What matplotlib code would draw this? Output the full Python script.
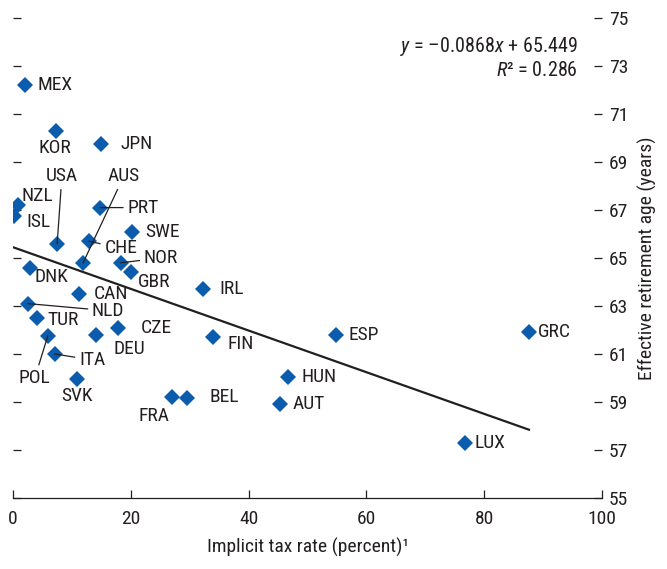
import numpy as np
import matplotlib.pyplot as plt
from matplotlib import font_manager

# Pick a condensed sans if one is installed, else a plain one
installed = {f.name for f in font_manager.fontManager.ttflist}
family = 'DejaVu Sans'
for name in ['Liberation Sans Narrow', 'Roboto Condensed', 'Open Sans Condensed',
             'Noto Sans Condensed', 'DejaVu Sans Condensed', 'Liberation Sans']:
    if name in installed:
        family = name
        break
narrow = 'Narrow' in family or 'Condensed' in family
FS = 14 if narrow else 12

plt.rcParams['font.family'] = [family, 'DejaVu Sans']
plt.rcParams['mathtext.fontset'] = 'custom'
plt.rcParams['mathtext.rm'] = family
plt.rcParams['mathtext.it'] = family + ':italic'

# Countries: implicit tax rate (percent) vs effective retirement age (years)
countries = ['MEX', 'KOR', 'JPN', 'NZL', 'ISL', 'USA', 'PRT', 'SWE', 'CHE', 'AUS',
             'NOR', 'GBR', 'DNK', 'IRL', 'CAN', 'NLD', 'TUR', 'DEU', 'CZE', 'POL',
             'ITA', 'SVK', 'FIN', 'FRA', 'BEL', 'HUN', 'AUT', 'ESP', 'GRC', 'LUX']
tax_rate = [2.0, 7.3, 14.9, 0.85, 0.2, 7.5, 14.8, 20.2, 12.9, 11.9,
            18.3, 20.0, 2.9, 32.3, 11.2, 2.5, 4.1, 14.1, 17.8, 5.9,
            7.1, 10.9, 34.0, 27.0, 29.5, 46.7, 45.3, 54.8, 87.6, 76.7]
ret_age = [72.2, 70.3, 69.75, 67.2, 66.75, 65.6, 67.1, 66.1, 65.7, 64.8,
           64.8, 64.4, 64.6, 63.7, 63.5, 63.1, 62.5, 61.8, 62.1, 61.75,
           61.0, 59.95, 61.7, 59.2, 59.15, 60.05, 58.9, 61.8, 61.9, 57.3]

# Fitted trend
slope, intercept, r2 = -0.0868, 65.449, 0.286

# Label placement (text position in data units, alignment, leader line)
label_pos = {
    'MEX': (4.2, 72.2, 'left', False), 'KOR': (7.1, 69.6, 'center', False),
    'JPN': (18.2, 69.75, 'left', False), 'USA': (8.3, 68.4, 'center', True),
    'AUS': (18.8, 68.4, 'center', True), 'NZL': (4.2, 67.6, 'center', False),
    'ISL': (2.2, 66.5, 'left', False), 'PRT': (19.4, 67.1, 'left', True),
    'SWE': (22.4, 66.1, 'left', False), 'CHE': (15.5, 65.4, 'left', True),
    'NOR': (22.2, 65.0, 'left', True), 'GBR': (21.2, 64.0, 'left', False),
    'DNK': (3.7, 64.2, 'left', False), 'IRL': (35.0, 63.7, 'left', False),
    'CAN': (13.75, 63.5, 'left', False), 'NLD': (13.4, 62.8, 'left', True),
    'TUR': (5.9, 62.4, 'left', False), 'DEU': (17.0, 61.2, 'left', False),
    'CZE': (21.7, 62.1, 'left', False), 'POL': (3.7, 60.0, 'center', True),
    'ITA': (11.2, 60.75, 'left', True), 'SVK': (10.9, 59.25, 'center', False),
    'FIN': (36.5, 61.4, 'left', False), 'FRA': (23.9, 58.4, 'center', False),
    'BEL': (33.4, 59.2, 'left', False), 'HUN': (48.9, 60.05, 'left', False),
    'AUT': (47.4, 58.9, 'left', False), 'ESP': (56.9, 61.8, 'left', False),
    'GRC': (89.1, 61.9, 'left', False), 'LUX': (78.4, 57.3, 'left', False),
}

BLUE = '#0b5cad'
TXT = '#231f20'

fig = plt.figure(figsize=(6.67, 5.69), dpi=100)
ax = fig.add_axes([0.0195, 0.1248, 0.883, 0.8436])

ax.plot(tax_rate, ret_age, 'D', color=BLUE, markersize=8, markeredgewidth=0,
        zorder=3)

xs = np.array([0, max(tax_rate)])
ax.plot(xs, intercept + slope * xs, color=TXT, linewidth=1.6, zorder=2)

for c, x, y in zip(countries, tax_rate, ret_age):
    tx, ty, ha, leader = label_pos[c]
    arrow = dict(arrowstyle='-', color=TXT, lw=0.9, shrinkA=1, shrinkB=0) if leader else None
    ax.annotate(c, xy=(x, y), xytext=(tx, ty), ha=ha, va='center',
                fontsize=FS, color=TXT, arrowprops=arrow, zorder=4)

ax.text(95.9, 73.8, r'$y$ = –0.0868$x$ + 65.449', ha='right', va='center',
        fontsize=FS + 0.5, color=TXT)
ax.text(95.9, 72.8, r'$R$² = ' + f'{r2:.3f}', ha='right', va='center',
        fontsize=FS + 0.5, color=TXT)

ax.set_xlim(0, 100)
ax.set_ylim(55, 75)
ax.set_xticks(range(0, 101, 20))
ax.set_yticks(range(55, 76, 2))

for side in ['top', 'left', 'right']:
    ax.spines[side].set_visible(False)
ax.spines['bottom'].set_color(TXT)
ax.spines['bottom'].set_linewidth(0.9)

ax.tick_params(axis='x', direction='in', length=6, width=0.9, color=TXT,
               labelsize=FS, labelcolor=TXT, pad=9)
ax.tick_params(axis='y', direction='in', length=6, width=0.9, color=TXT,
               left=True, right=True, labelleft=False, labelright=True,
               labelsize=FS, labelcolor=TXT, pad=5)

ax.set_xlabel('Implicit tax rate (percent)¹', fontsize=FS, color=TXT,
              labelpad=7)
ax.yaxis.set_label_position('right')
ax.set_ylabel('Effective retirement age (years)', fontsize=FS, color=TXT,
              labelpad=7)

fig.savefig('out.png', dpi=100)
